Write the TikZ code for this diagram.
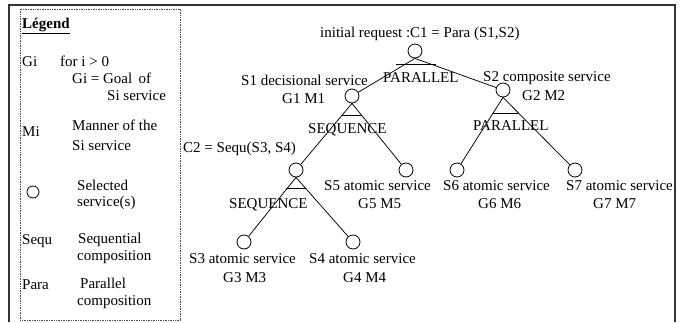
\documentclass[tikz,border=0pt]{standalone}
\usepackage{fontspec}
\setmainfont{Liberation Serif}
\begin{document}
\begin{tikzpicture}[x=1pt,y=-1pt,
  svc/.style={circle,draw,line width=0.8pt,minimum size=14pt,inner sep=0pt},
  lbl/.style={anchor=base west,inner sep=0pt,font=\fontsize{15}{18}\selectfont},
  link/.style={line width=0.75pt},
  chord/.style={line width=0.8pt}]
\useasboundingbox (0,0) rectangle (682,322);

% outer frame (open at the bottom) and dotted legend box
\draw[line width=2pt,black!80] (9,322) -- (9,5) -- (675,5) -- (675,322);
\draw[densely dotted,line width=0.7pt,black!70] (20,9) rectangle (180,320);

% legend
\node[lbl] (lg)  at (22,28)  {\underline{\textbf{Légend}}};
\node[lbl] (lg1) at (22,66)  {Gi};
\node[lbl] (lg2) at (60,66)  {for i > 0};
\node[lbl] (lg3) at (72,83)  {Gi = Goal\, of};
\node[lbl] (lg4) at (107,100) {Si service};
\node[lbl] (lg5) at (22,136) {Mi};
\node[lbl] (lg6) at (72,130) {Manner of the};
\node[lbl] (lg7) at (72,150) {Si service};
\node[svc,minimum size=12pt] (lgc) at (33,192) {};
\node[lbl] (lg8) at (77,190) {Selected};
\node[lbl] (lg9) at (77,206) {service(s)};
\node[lbl] (lg10) at (22,244) {Sequ};
\node[lbl] (lg11) at (78,243) {Sequential};
\node[lbl] (lg12) at (77,260) {composition};
\node[lbl] (lg13) at (22,289) {Para};
\node[lbl] (lg14) at (80,288) {Parallel};
\node[lbl] (lg15) at (77,305) {composition};

% service tree
\node[svc] (c1) at (415,51) {};
\node[svc] (s1) at (352,96) {};
\node[svc] (s2) at (503,90) {};
\node[svc] (c2) at (296,170) {};
\node[svc] (s5) at (406,170) {};
\node[svc] (s6) at (457,170) {};
\node[svc] (s7) at (575,170) {};
\node[svc] (s3) at (244,242) {};
\node[svc] (s4) at (353,242) {};

\draw[link] (c1.south) -- (s1);
\draw[link] (c1.south) -- (s2);
\draw[link] (s1.south) -- (c2);
\draw[link] (s1.south) -- (s5);
\draw[link] (s2.south) -- (s6);
\draw[link] (s2.south) -- (s7);
\draw[link] (c2.south) -- (s3);
\draw[link] (c2.south) -- (s4);

% composition bars
\draw[chord] (396,64) -- (436,64);
\draw[chord] (342,115) -- (362,115);
\draw[chord] (493,113) -- (518,113);
\draw[chord] (286,188) -- (306,188);

% tree labels
\node[lbl] (t0)  at (320,37)  {initial request :C1 = Para (S1,S2)};
\node[lbl] (t1)  at (383,82)  {PARALLEL};
\node[lbl] (t2)  at (241,85)  {S1 decisional service};
\node[lbl] (t3)  at (282,103) {G1 M1};
\node[lbl] (t4)  at (483,81)  {S2 composite service};
\node[lbl] (t5)  at (522,100) {G2 M2};
\node[lbl] (t6)  at (308,133) {SEQUENCE};
\node[lbl] (t7)  at (473,130) {PARALLEL};
\node[lbl] (t8)  at (183,152) {C2 = Sequ(S3, S4)};
\node[lbl] (t9)  at (229,208) {SEQUENCE};
\node[lbl] (t10) at (324,190) {S5 atomic service};
\node[lbl] (t11) at (358,208) {G5 M5};
\node[lbl] (t12) at (443,190) {S6 atomic service};
\node[lbl] (t13) at (478,208) {G6 M6};
\node[lbl] (t14) at (566,190) {S7 atomic service};
\node[lbl] (t15) at (593,208) {G7 M7};
\node[lbl] (t16) at (189,263) {S3 atomic service};
\node[lbl] (t17) at (223,282) {G3 M3};
\node[lbl] (t18) at (309,263) {S4 atomic service};
\node[lbl] (t19) at (343,282) {G4 M4};
\end{tikzpicture}
\end{document}
